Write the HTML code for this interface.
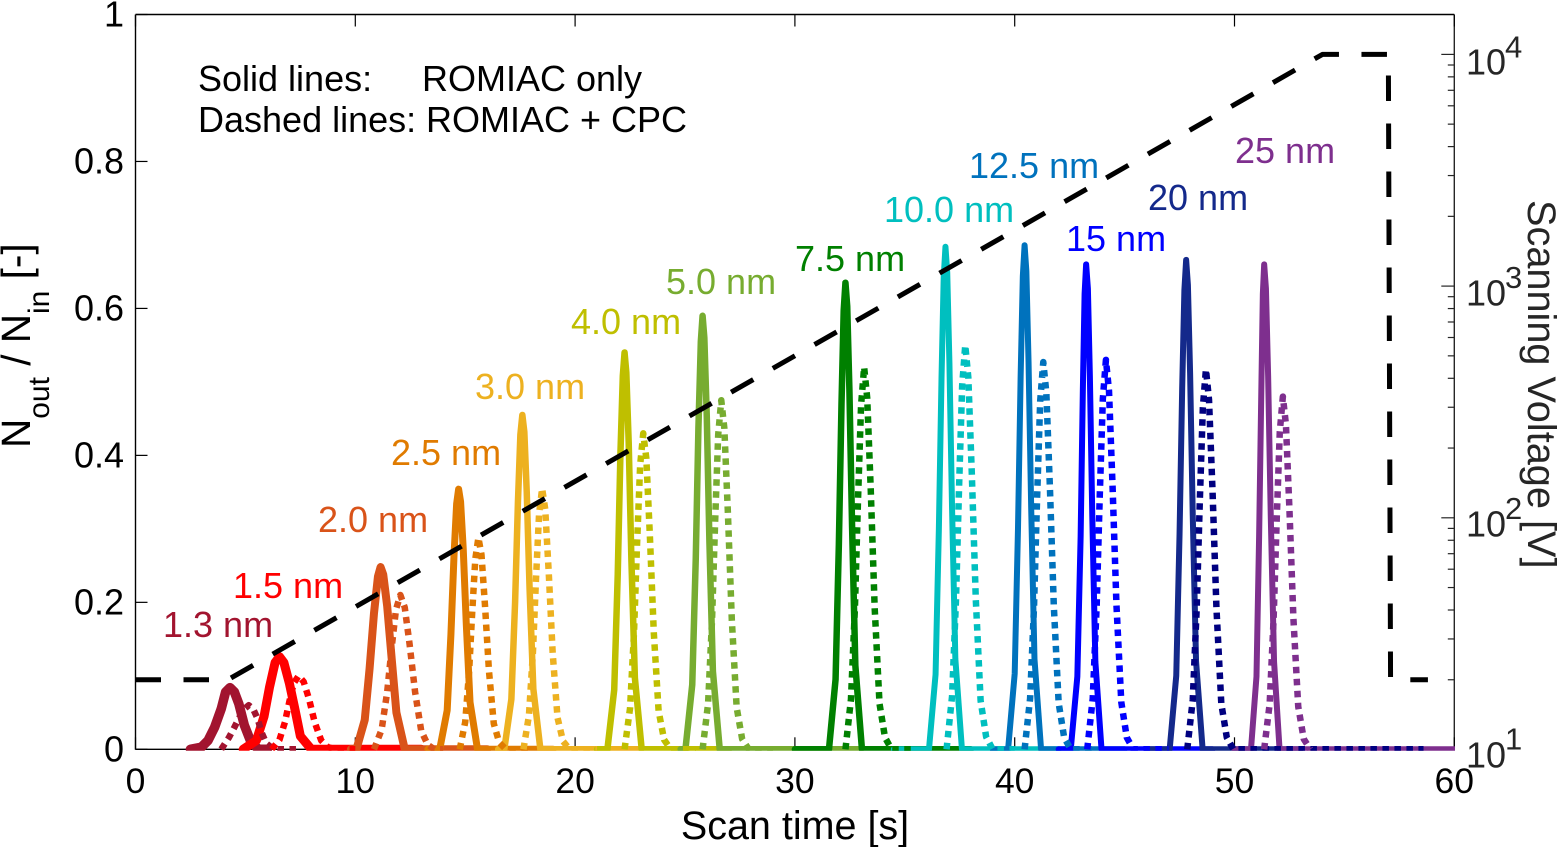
<!DOCTYPE html>
<html lang="en">
<head>
<meta charset="utf-8">
<title>Scan time chart</title>
<style>
html,body{margin:0;padding:0;background:#fff;}
svg{display:block;font-family:"Liberation Sans",Arial,sans-serif;}
</style>
</head>
<body>
<svg id="chart" xmlns="http://www.w3.org/2000/svg" width="1558" height="847" viewBox="0 0 1558 847">
  <defs>
    <clipPath id="plot-clip"><rect x="135" y="14" width="1320" height="736.7"/></clipPath>
  </defs>
  <rect x="0" y="0" width="1558" height="847" fill="#fff"/>
  <g id="axes"></g>
  <g id="marks" clip-path="url(#plot-clip)"></g>
  <g id="labels"></g>
  <text x="198" y="91" font-size="36" fill="#000">Solid lines:</text>
  <text x="422" y="91" font-size="36" fill="#000">ROMIAC only</text>
  <text x="198" y="132" font-size="36" fill="#000">Dashed lines:</text>
  <text x="426" y="132" font-size="36" fill="#000">ROMIAC + CPC</text>
  <text x="795" y="839" font-size="39.5" text-anchor="middle" fill="#000">Scan time [s]</text>
  <text transform="translate(30,448) rotate(-90)" font-size="40.5" fill="#000">N<tspan font-size="30" dy="19">out</tspan><tspan dy="-19"> / N</tspan><tspan font-size="30" dy="19">in</tspan><tspan dy="-19"> [-]</tspan></text>
  <text transform="translate(1528,200) rotate(90)" font-size="39.7" fill="#262626">Scanning Voltage [V]</text>
</svg>
<script>
// ---- tick data ----
const xTicks = [0, 10, 20, 30, 40, 50, 60];
const yTicks = [0, 0.2, 0.4, 0.6, 0.8, 1];
const yTickLabels = ['0', '0.2', '0.4', '0.6', '0.8', '1'];
const voltageDecades = [1, 2, 3, 4];
const voltageMinorFactors = [2, 3, 4, 5, 6, 7, 8, 9];

// ---- scanning voltage ----
const voltageTime = [0, 4.2, 54, 57, 57.1, 58.8];
const voltageValues = [20, 20, 10000, 10000, 20, 20];

// ---- solid lines: ROMIAC only ----
const solid13t = [2.5, 3.0, 3.3, 3.6, 3.9, 4.1, 4.3, 4.5, 4.7, 4.95, 5.25, 5.6, 6.0];
const solid13v = [0, 0.003, 0.012, 0.03, 0.055, 0.078, 0.084, 0.078, 0.062, 0.033, 0.01, 0, 0];
const solid15t = [4.9, 5.5, 5.85, 6.1, 6.35, 6.55, 6.75, 7.0, 7.25, 7.5, 8.0, 13];
const solid15v = [0, 0.012, 0.045, 0.085, 0.118, 0.126, 0.118, 0.09, 0.055, 0.018, 0, 0];
const solid20t = [9.8, 10.05, 10.43, 10.65, 10.85, 11.03, 11.15, 11.27, 11.45, 11.65, 11.87, 12.25, 16];
const solid20v = [0, 0, 0.04, 0.11, 0.185, 0.235, 0.248, 0.238, 0.195, 0.125, 0.05, 0, 0];
const solid25t = [13.3, 13.84, 14.18, 14.35, 14.49, 14.61, 14.7, 14.79, 14.91, 15.05, 15.22, 15.56, 19];
const solid25v = [0, 0, 0.053, 0.156, 0.263, 0.334, 0.354, 0.337, 0.273, 0.17, 0.064, 0, 0];
const solid30t = [16.5, 16.78, 17.1, 17.27, 17.4, 17.51, 17.6, 17.69, 17.8, 17.93, 18.1, 18.42, 23];
const solid30v = [0, 0, 0.068, 0.2, 0.337, 0.428, 0.455, 0.432, 0.35, 0.218, 0.082, 0, 0];
const solid40t = [21, 21.47, 21.78, 21.94, 22.06, 22.17, 22.25, 22.33, 22.44, 22.56, 22.72, 23.03, 27];
const solid40v = [0, 0, 0.081, 0.238, 0.4, 0.508, 0.54, 0.513, 0.416, 0.259, 0.097, 0, 0];
const solid50t = [24.8, 25.02, 25.33, 25.49, 25.61, 25.72, 25.8, 25.88, 25.99, 26.11, 26.27, 26.58, 33];
const solid50v = [0, 0, 0.088, 0.26, 0.437, 0.555, 0.59, 0.56, 0.454, 0.283, 0.106, 0, 0];
const solid75t = [30, 31.55, 31.85, 32.0, 32.12, 32.22, 32.3, 32.38, 32.48, 32.6, 32.75, 33.05, 38];
const solid75v = [0, 0, 0.095, 0.279, 0.47, 0.597, 0.635, 0.603, 0.489, 0.305, 0.114, 0, 0];
const solid100t = [34.5, 36.1, 36.4, 36.55, 36.67, 36.77, 36.85, 36.93, 37.03, 37.15, 37.3, 37.6, 42];
const solid100v = [0, 0, 0.102, 0.3, 0.505, 0.642, 0.684, 0.649, 0.526, 0.328, 0.123, 0, 0];
const solid125t = [39, 39.7, 40.0, 40.15, 40.27, 40.37, 40.45, 40.53, 40.63, 40.75, 40.9, 41.2, 45];
const solid125v = [0, 0, 0.103, 0.301, 0.507, 0.644, 0.686, 0.651, 0.527, 0.329, 0.123, 0, 0];
const solid150t = [42, 42.55, 42.85, 43.0, 43.1, 43.18, 43.25, 43.33, 43.42, 43.53, 43.67, 43.95, 49];
const solid150v = [0, 0, 0.099, 0.29, 0.488, 0.62, 0.66, 0.627, 0.508, 0.317, 0.119, 0, 0];
const solid200t = [46, 47.05, 47.35, 47.5, 47.62, 47.72, 47.8, 47.88, 47.98, 48.1, 48.25, 48.55, 53];
const solid200v = [0, 0, 0.1, 0.293, 0.492, 0.625, 0.666, 0.632, 0.512, 0.319, 0.12, 0, 0];
const solid250t = [50, 50.75, 51.0, 51.12, 51.22, 51.29, 51.35, 51.43, 51.53, 51.65, 51.8, 52.05, 60];
const solid250v = [0, 0, 0.099, 0.29, 0.488, 0.62, 0.66, 0.627, 0.508, 0.317, 0.119, 0, 0];

// ---- dashed lines: ROMIAC + CPC ----
const dash13t = [3.9, 4.25, 4.5, 4.7, 4.95, 5.15, 5.35, 5.55, 5.75, 5.95, 6.2, 6.5, 7.5];
const dash13v = [0, 0.016, 0.03, 0.042, 0.055, 0.06, 0.055, 0.042, 0.022, 0.008, 0.002, 0, 0];
const dash15t = [6.2, 6.55, 6.8, 7.0, 7.2, 7.42, 7.65, 7.9, 8.15, 8.45, 8.75, 9.1, 10];
const dash15v = [0, 0.013, 0.037, 0.065, 0.09, 0.1, 0.092, 0.068, 0.037, 0.012, 0.003, 0, 0];
const dash20t = [10.85, 11.2, 11.45, 11.65, 11.85, 12.05, 12.25, 12.47, 12.72, 13.0, 13.3, 13.6, 14];
const dash20v = [0, 0.027, 0.078, 0.137, 0.19, 0.21, 0.193, 0.143, 0.078, 0.025, 0.006, 0, 0];
const dash25t = [14.75, 15.0, 15.18, 15.32, 15.46, 15.6, 15.74, 15.9, 16.08, 16.3, 16.55, 16.85, 18];
const dash25v = [0, 0.037, 0.107, 0.187, 0.259, 0.288, 0.265, 0.196, 0.107, 0.035, 0.009, 0, 0];
const dash30t = [17.65, 17.9, 18.08, 18.22, 18.36, 18.5, 18.64, 18.8, 18.98, 19.2, 19.45, 19.75, 21];
const dash30v = [0, 0.046, 0.131, 0.231, 0.32, 0.355, 0.327, 0.241, 0.131, 0.043, 0.011, 0, 0];
const dash40t = [22.25, 22.5, 22.68, 22.82, 22.96, 23.1, 23.24, 23.4, 23.58, 23.8, 24.05, 24.35, 25.5];
const dash40v = [0, 0.056, 0.159, 0.28, 0.387, 0.43, 0.396, 0.292, 0.159, 0.052, 0.013, 0, 0];
const dash50t = [25.8, 26.05, 26.23, 26.37, 26.51, 26.65, 26.79, 26.95, 27.13, 27.35, 27.6, 27.9, 29];
const dash50v = [0, 0.062, 0.176, 0.309, 0.428, 0.475, 0.437, 0.323, 0.176, 0.057, 0.014, 0, 0];
const dash75t = [32.3, 32.55, 32.73, 32.87, 33.01, 33.15, 33.29, 33.45, 33.63, 33.85, 34.1, 34.4, 35.5];
const dash75v = [0, 0.068, 0.192, 0.338, 0.468, 0.52, 0.478, 0.354, 0.192, 0.062, 0.016, 0, 0];
const dash100t = [36.9, 37.15, 37.33, 37.47, 37.61, 37.75, 37.89, 38.05, 38.23, 38.45, 38.7, 39.0, 40];
const dash100v = [0, 0.072, 0.204, 0.358, 0.495, 0.55, 0.506, 0.374, 0.204, 0.066, 0.017, 0, 0];
const dash125t = [40.45, 40.7, 40.88, 41.02, 41.16, 41.3, 41.44, 41.6, 41.78, 42.0, 42.25, 42.55, 43.5];
const dash125v = [0, 0.069, 0.195, 0.343, 0.474, 0.527, 0.485, 0.358, 0.195, 0.063, 0.016, 0, 0];
const dash150t = [43.3, 43.55, 43.73, 43.87, 44.01, 44.15, 44.29, 44.45, 44.63, 44.85, 45.1, 45.4, 47];
const dash150v = [0, 0.069, 0.196, 0.345, 0.477, 0.53, 0.488, 0.36, 0.196, 0.064, 0.016, 0, 0];
const dash200t = [47.85, 48.1, 48.28, 48.42, 48.56, 48.7, 48.84, 49.0, 49.18, 49.4, 49.65, 49.95, 58.6];
const dash200v = [0, 0.067, 0.191, 0.336, 0.465, 0.517, 0.476, 0.352, 0.191, 0.062, 0.016, 0, 0];
const dash250t = [51.35, 51.6, 51.78, 51.92, 52.06, 52.2, 52.34, 52.5, 52.68, 52.9, 53.15, 53.45];
const dash250v = [0, 0.062, 0.178, 0.312, 0.432, 0.48, 0.442, 0.326, 0.178, 0.058, 0.014, 0];

const sizeLabels = ['1.3 nm', '1.5 nm', '2.0 nm', '2.5 nm', '3.0 nm', '4.0 nm', '5.0 nm', '7.5 nm', '10.0 nm', '12.5 nm', '15 nm', '20 nm', '25 nm'];
const solidTimes = [solid13t, solid15t, solid20t, solid25t, solid30t, solid40t, solid50t, solid75t, solid100t, solid125t, solid150t, solid200t, solid250t];
const solidValues = [solid13v, solid15v, solid20v, solid25v, solid30v, solid40v, solid50v, solid75v, solid100v, solid125v, solid150v, solid200v, solid250v];
const dashTimes = [dash13t, dash15t, dash20t, dash25t, dash30t, dash40t, dash50t, dash75t, dash100t, dash125t, dash150t, dash200t, dash250t];
const dashValues = [dash13v, dash15v, dash20v, dash25v, dash30v, dash40v, dash50v, dash75v, dash100v, dash125v, dash150v, dash200v, dash250v];

// ---- styling (not data) ----
const seriesColors = ['#A2142F', '#FF0000', '#D95319', '#E07B00', '#EDB120', '#BFBF00', '#77AC30', '#008000', '#00BFBF', '#0072BD', '#0000FF', '#14298B', '#7E2F8E'];
const dashColors = ['#A2142F', '#FF0000', '#D95319', '#E07B00', '#EDB120', '#BFBF00', '#77AC30', '#008000', '#00BFBF', '#0072BD', '#0000FF', '#000080', '#7E2F8E'];
const solidWidths = [9.5, 9, 8, 7, 6.5, 6.5, 6.5, 6.5, 6, 6, 6, 6, 6];
const labelAnchors = [[163, 637], [233, 598], [318, 532], [391, 465], [475, 399], [571, 334], [666, 294], [795, 271], [884, 222], [969, 178], [1066, 251], [1148, 210], [1235, 163]];

// ---- axis functions ----
const plotLeft = 135.5, plotRight = 1454.3, plotTop = 14.5, plotBottom = 749.3;
const xScale = t => plotLeft + (t - 0) / 60 * (plotRight - plotLeft);
const yScale = v => plotBottom - v * (plotBottom - plotTop);
const voltageScale = V => 749.5 - (Math.log10(V) - 1) * 231.7;

const NS = 'http://www.w3.org/2000/svg';
const axes = document.getElementById('axes');
const marks = document.getElementById('marks');
const labelsLayer = document.getElementById('labels');

function makeLine(x1, y1, x2, y2, color, width) {
  const el = document.createElementNS(NS, 'line');
  el.setAttribute('x1', x1);
  el.setAttribute('y1', y1);
  el.setAttribute('x2', x2);
  el.setAttribute('y2', y2);
  el.setAttribute('stroke', color);
  el.setAttribute('stroke-width', width);
  return el;
}
function makeText(x, y, str, size, color, anchor) {
  const el = document.createElementNS(NS, 'text');
  el.setAttribute('x', x);
  el.setAttribute('y', y);
  el.setAttribute('font-size', size);
  el.setAttribute('fill', color);
  el.setAttribute('text-anchor', anchor);
  el.textContent = str;
  return el;
}
function makeCurve(ts, vs, yFn, color, width, dash, cap) {
  const el = document.createElementNS(NS, 'path');
  el.setAttribute('d', ts.map((t, i) => (i ? 'L' : 'M') + xScale(t).toFixed(2) + ' ' + yFn(vs[i]).toFixed(2)).join(''));
  el.setAttribute('fill', 'none');
  el.setAttribute('stroke', color);
  el.setAttribute('stroke-width', width);
  el.setAttribute('stroke-linejoin', 'round');
  el.setAttribute('stroke-linecap', cap);
  if (dash) el.setAttribute('stroke-dasharray', dash);
  return el;
}

// ---- axes frame ----
const frameLeft = makeLine(plotLeft, plotTop, plotLeft, plotBottom + 0.5, '#000', 1.4);


axes.appendChild(frameLeft);
const frameBottom = makeLine(plotLeft, plotBottom, plotRight, plotBottom, '#000', 1.4);


axes.appendChild(frameBottom);
const frameTop = makeLine(plotLeft, plotTop, plotRight, plotTop, '#000', 1.4);


axes.appendChild(frameTop);
const frameRight = makeLine(plotRight, plotTop, plotRight, plotBottom + 0.5, '#262626', 1.4);


axes.appendChild(frameRight);

// ---- x ticks ----
xTicks.forEach(t => {
  const x = xScale(t);
  const bottomTick = makeLine(x, plotBottom, x, plotBottom - 12, '#000', 1.2);
  
  
  axes.appendChild(bottomTick);
  const topTick = makeLine(x, plotTop, x, plotTop + 12, '#000', 1.2);
  
  
  axes.appendChild(topTick);
  const label = makeText(x, 793, String(t), 35.5, '#000', 'middle');
  
  
  axes.appendChild(label);
});

// ---- left y ticks ----
yTicks.forEach((v, i) => {
  const y = yScale(v);
  const tick = makeLine(plotLeft, y, plotLeft + 12, y, '#000', 1.2);
  
  
  axes.appendChild(tick);
  const label = makeText(124, y + 12, yTickLabels[i], 36, '#000', 'end');
  
  
  axes.appendChild(label);
});

// ---- right log ticks ----
voltageDecades.forEach(d => {
  const y = voltageScale(Math.pow(10, d));
  const tick = makeLine(plotRight, y, plotRight - 13, y, '#262626', 1.2);
  
  
  axes.appendChild(tick);
  const base = makeText(1466, y + 18 + (d - 1) * 0.67, '10', 36, '#262626', 'start');
  
  
  axes.appendChild(base);
  const exponent = makeText(1505, y + (d - 1), String(d), 31, '#262626', 'start');
  
  
  axes.appendChild(exponent);
  if (d < 4) {
    voltageMinorFactors.forEach(m => {
      const my = voltageScale(m * Math.pow(10, d));
      const minor = makeLine(plotRight, my, plotRight - 6.5, my, '#262626', 1.2);
      
      
      axes.appendChild(minor);
    });
  }
});

// ---- series ----
sizeLabels.forEach((name, i) => {
  const curve = makeCurve(solidTimes[i], solidValues[i], yScale, seriesColors[i], solidWidths[i], null, 'round');
  
  
  marks.appendChild(curve);
});
sizeLabels.forEach((name, i) => {
  const curve = makeCurve(dashTimes[i], dashValues[i], yScale, dashColors[i], 6.5, '6.5 5.5', 'butt');
  
  
  marks.appendChild(curve);
});

// ---- voltage ramp ----
const voltageLine = makeCurve(voltageTime, voltageValues, voltageScale, '#000', 5, '25.5 22.5', 'butt');


marks.appendChild(voltageLine);

// ---- peak labels ----
sizeLabels.forEach((name, i) => {
  const label = makeText(labelAnchors[i][0], labelAnchors[i][1], name, 36, seriesColors[i], 'start');
  
  
  labelsLayer.appendChild(label);
});
</script>
</body>
</html>
